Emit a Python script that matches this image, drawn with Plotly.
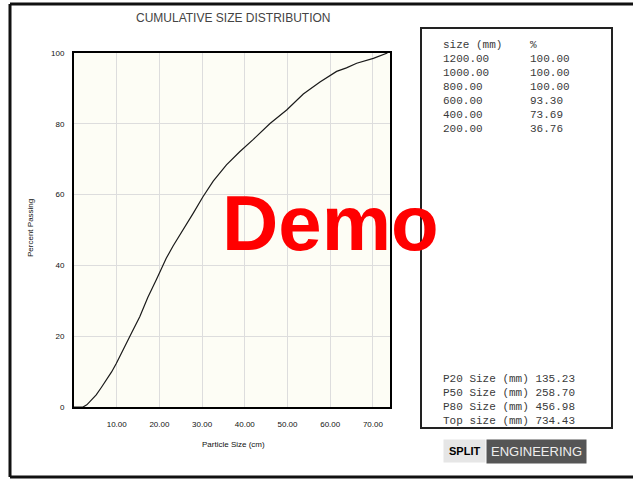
import plotly.graph_objects as go

# ---- data ----
size_cm = [0.0, 2.1, 3.0, 4.0, 5.2, 6.4, 7.6, 8.8, 9.9, 11.1, 12.3, 13.5, 15.4, 17.3, 19.3,
           21.6, 23.2, 24.8, 26.3, 27.9, 30.2, 32.6, 35.7, 38.8, 42.0, 45.9, 49.8, 53.7,
           57.6, 61.5, 63.8, 66.2, 70.1, 73.4]
pct_passing = [0.0, 0.0, 0.6, 1.8, 3.4, 5.5, 7.6, 9.9, 12.3, 15.3, 18.3, 21.0, 25.5, 31.0, 36.0,
               42.0, 45.5, 48.5, 51.5, 54.7, 59.4, 63.8, 68.4, 72.1, 75.6, 80.1, 83.9, 88.4,
               91.8, 94.8, 95.8, 97.1, 98.5, 100.0]

x_ticks = [10, 20, 30, 40, 50, 60, 70]
x_tick_labels = ["10.00", "20.00", "30.00", "40.00", "50.00", "60.00", "70.00"]
y_ticks = [0, 20, 40, 60, 80, 100]

table_sizes = ["1200.00", "1000.00", "800.00", "600.00", "400.00", "200.00"]
table_pcts = ["100.00", "100.00", "100.00", "93.30", "73.69", "36.76"]
stat_labels = ["P20 Size (mm)", "P50 Size (mm)", "P80 Size (mm)", "Top size (mm)"]
stat_values = ["135.23", "258.70", "456.98", "734.43"]

W, H = 633, 479
L, R, T, B = 74, 390, 53, 407


def px(x):
    return (x - L) / (R - L)


def py(y):
    return (B - y) / (B - T)


fig = go.Figure()
fig.add_trace(go.Scatter(x=size_cm, y=pct_passing, mode="lines",
                         line=dict(color="#1a1a1a", width=1.2), showlegend=False,
                         hoverinfo="skip"))

axis_font = dict(family="Liberation Sans, Arial", size=8, color="#111")
fig.update_xaxes(range=[0, 74], tickvals=x_ticks, ticktext=x_tick_labels,
                 showgrid=True, gridcolor="#dddddd", gridwidth=1,
                 showline=True, linecolor="black", linewidth=2, mirror=True,
                 ticks="", ticklabelstandoff=8, tickfont=axis_font, zeroline=False,
                 fixedrange=True)
fig.update_yaxes(range=[0, 100], tickvals=y_ticks,
                 showgrid=True, gridcolor="#dddddd", gridwidth=1,
                 showline=True, linecolor="black", linewidth=2, mirror=True,
                 ticks="", ticklabelstandoff=6, tickfont=axis_font, zeroline=False,
                 fixedrange=True)

shapes = []
# outer frame (top, left, bottom)
for (x0, y0, x1, y1) in [(10, 4, 640, 4), (10, 4, 10, 477), (10, 477, 640, 477)]:
    shapes.append(dict(type="line", xref="paper", yref="paper",
                       x0=px(x0), y0=py(y0), x1=px(x1), y1=py(y1),
                       line=dict(color="#111", width=3), layer="above"))
# table box
shapes.append(dict(type="rect", xref="paper", yref="paper",
                   x0=px(421), y0=py(28), x1=px(612), y1=py(428),
                   line=dict(color="#222", width=2), fillcolor="rgba(0,0,0,0)", layer="above"))

annotations = []
annotations.append(dict(text="CUMULATIVE SIZE DISTRIBUTION", xref="paper", yref="paper",
                        x=px(233), y=py(18), showarrow=False, xanchor="center", yanchor="middle",
                        font=dict(family="Liberation Sans, Arial", size=12, color="#444")))
annotations.append(dict(text="Particle Size (cm)", xref="paper", yref="paper",
                        x=px(233), y=py(444), showarrow=False, xanchor="center", yanchor="middle",
                        font=dict(family="Liberation Sans, Arial", size=8, color="#111")))
annotations.append(dict(text="Percent Passing", xref="paper", yref="paper",
                        x=px(30), y=py(228), showarrow=False, xanchor="center", yanchor="middle",
                        textangle=-90,
                        font=dict(family="Liberation Sans, Arial", size=8, color="#111")))

mono = dict(family="Liberation Mono, DejaVu Sans Mono, monospace", size=11, color="#3a3a3a")
annotations.append(dict(text="size (mm)", xref="paper", yref="paper", x=px(441), y=py(45),
                        showarrow=False, xanchor="left", yanchor="middle", font=mono))
annotations.append(dict(text="%", xref="paper", yref="paper", x=px(528), y=py(45),
                        showarrow=False, xanchor="left", yanchor="middle", font=mono))
for i, (s, p) in enumerate(zip(table_sizes, table_pcts)):
    yy = 59 + i * 14
    annotations.append(dict(text=s, xref="paper", yref="paper", x=px(441), y=py(yy),
                            showarrow=False, xanchor="left", yanchor="middle", font=mono))
    annotations.append(dict(text=p, xref="paper", yref="paper", x=px(528), y=py(yy),
                            showarrow=False, xanchor="left", yanchor="middle", font=mono))
for i, (lab, v) in enumerate(zip(stat_labels, stat_values)):
    yy = 379 + i * 14
    annotations.append(dict(text=lab + " " + v, xref="paper", yref="paper", x=px(441), y=py(yy),
                            showarrow=False, xanchor="left", yanchor="middle", font=mono))

# logo
annotations.append(dict(text="<b>SPLIT</b>", xref="paper", yref="paper", x=px(486), y=py(451),
                        showarrow=False, xanchor="right", yanchor="middle",
                        bgcolor="#e6e6e6", borderpad=5,
                        font=dict(family="Liberation Sans, Arial", size=11, color="#000")))
annotations.append(dict(text="ENGINEERING", xref="paper", yref="paper", x=px(486), y=py(451),
                        showarrow=False, xanchor="left", yanchor="middle",
                        bgcolor="#555555", borderpad=4,
                        font=dict(family="Liberation Sans, Arial", size=13, color="#eeeeee")))

# Demo watermark
annotations.append(dict(text="<b>Demo</b>", xref="paper", yref="paper", x=px(330), y=py(223),
                        showarrow=False, xanchor="center", yanchor="middle",
                        font=dict(family="Liberation Sans, Arial", size=78, color="#ff0000")))

fig.update_layout(width=W, height=H,
                  margin=dict(l=L, r=W - R, t=T, b=H - B),
                  paper_bgcolor="white", plot_bgcolor="#fdfdf5",
                  shapes=shapes, annotations=annotations, showlegend=False)

fig.write_html("out.html", config={"displayModeBar": False},
               post_script="document.body.style.margin='0';document.body.style.overflow='hidden';")
